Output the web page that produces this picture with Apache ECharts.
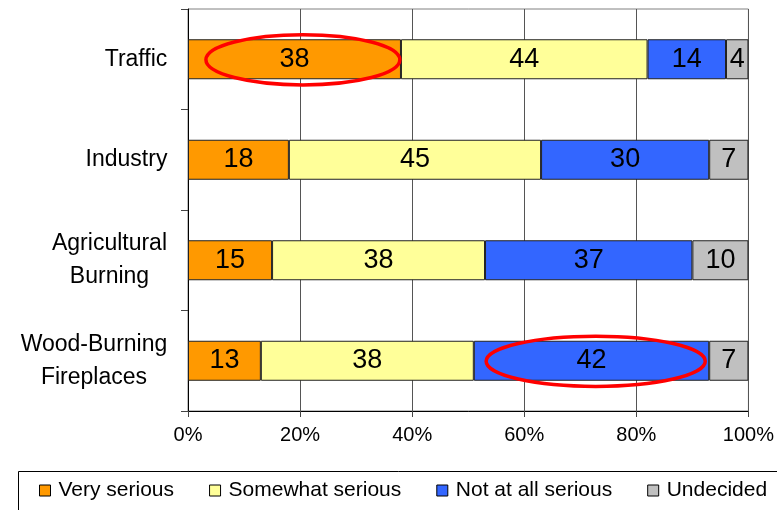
<!DOCTYPE html>
<html>
<head>
<meta charset="utf-8">
<script src="https://cdn.jsdelivr.net/npm/echarts@6/dist/echarts.min.js"></script>
<style>
html,body{margin:0;padding:0;background:#fff;}
#chart{width:777px;height:510px;}
</style>
</head>
<body>
<div id="chart"></div>
<script>
const categories = ['Traffic', 'Industry', 'Agricultural\nBurning', 'Wood-Burning\nFireplaces'];
const seriesNames = ['Very serious', 'Somewhat serious', 'Not at all serious', 'Undecided'];
const verySerious = [38, 18, 15, 13];
const somewhatSerious = [44, 45, 38, 38];
const notAtAllSerious = [14, 30, 37, 42];
const undecided = [4, 7, 10, 7];
const xTicks = [0, 20, 40, 60, 80, 100];
// highlighted segments: [start %, end %, category index]
const highlights = [[3.2, 37.8, 0], [53.2, 92.3, 3]];

const colors = ['#FF9900', '#FFFF99', '#3366FF', '#C0C0C0'];
const values = [verySerious, somewhatSerious, notAtAllSerious, undecided];
const FONT = "'Liberation Sans', Arial, sans-serif";
const CAT_FONT_SIZE = 23;

// measure category label lines so multi-line labels are centred as a block, block right-aligned
const ctx = document.createElement('canvas').getContext('2d');
ctx.font = CAT_FONT_SIZE + "px 'Liberation Sans', Arial, sans-serif";
const catRich = {};
categories.forEach((c, i) => {
  const w = Math.max.apply(null, c.split('\n').map(s => ctx.measureText(s).width));
  catRich['c' + i] = {
    width: Math.ceil(w) + 1, align: 'center', fontSize: CAT_FONT_SIZE,
    lineHeight: 33, color: '#000', fontFamily: FONT
  };
});

const chart = echarts.init(document.getElementById('chart'), null, {renderer: 'canvas'});

const barSeries = seriesNames.map((name, i) => ({
  name: name,
  type: 'bar',
  stack: 'total',
  barWidth: 40,
  data: values[i],
  itemStyle: {color: colors[i], borderColor: '#222', borderWidth: 1},
  label: {
    show: true,
    position: 'inside',
    color: '#000',
    fontSize: 27,
    fontFamily: FONT
  },
  emphasis: {disabled: true},
  z: 2
}));

const ellipseSeries = {
  type: 'custom',
  data: highlights,
  encode: {x: [0, 1], y: 2},
  z: 10,
  silent: true,
  renderItem: function (params, api) {
    const p1 = api.coord([api.value(0), api.value(2)]);
    const p2 = api.coord([api.value(1), api.value(2)]);
    const band = api.size([0, 1])[1];
    return {
      type: 'ellipse',
      shape: {cx: (p1[0] + p2[0]) / 2, cy: p1[1] + 0.5, rx: (p2[0] - p1[0]) / 2, ry: band * 0.25},
      style: {fill: null, stroke: '#FF0000', lineWidth: 3.5}
    };
  }
};

chart.setOption({
  animation: false,
  backgroundColor: '#fff',
  color: colors,
  textStyle: {fontFamily: FONT},
  grid: {
    left: 188, right: 28.5, top: 9, bottom: 99,
    show: true, borderColor: '#808080', borderWidth: 1,
    containLabel: false
  },
  legend: {
    data: seriesNames,
    left: 39,
    top: 480,
    padding: 0,
    itemWidth: 11,
    itemHeight: 11,
    itemGap: 35,
    icon: 'rect',
    itemStyle: {borderColor: '#000', borderWidth: 1},
    textStyle: {fontSize: 21, color: '#000', fontFamily: FONT, padding: [0, 0, 0, 3]}
  },
  graphic: [{
    type: 'rect',
    shape: {x: 18.5, y: 471.5, width: 800, height: 80},
    style: {fill: null, stroke: '#000', lineWidth: 1},
    silent: true
  }],
  xAxis: {
    type: 'value',
    min: xTicks[0],
    max: xTicks[xTicks.length - 1],
    interval: 20,
    axisLine: {show: true, lineStyle: {color: '#000', width: 1}},
    axisTick: {show: true, length: 6, lineStyle: {color: '#444'}},
    axisLabel: {formatter: '{value}%', fontSize: 20, color: '#000', margin: 14, fontFamily: FONT},
    splitLine: {show: true, lineStyle: {color: '#555', width: 1}}
  },
  yAxis: {
    type: 'category',
    data: categories,
    inverse: true,
    axisLine: {show: true, lineStyle: {color: '#000', width: 1}},
    axisTick: {show: true, length: 7, lineStyle: {color: '#444'}},
    axisLabel: {
      margin: 20,
      align: 'right',
      fontSize: CAT_FONT_SIZE,
      lineHeight: 33,
      color: '#000',
      fontFamily: FONT,
      formatter: function (value, index) {
        return value.split('\n').map(s => '{c' + index + '|' + s + '}').join('\n');
      },
      rich: catRich
    },
    splitLine: {show: false}
  },
  series: barSeries.concat([ellipseSeries])
});
</script>
</body>
</html>
